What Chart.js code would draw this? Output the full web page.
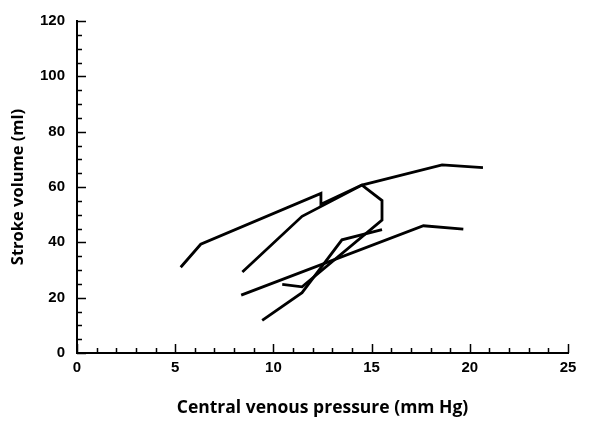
<!DOCTYPE html>
<html>
<head>
<meta charset="utf-8">
<title>Stroke volume vs CVP</title>
<script src="https://cdn.jsdelivr.net/npm/chart.js@4.4.1/dist/chart.umd.min.js"></script>
<style>
  html, body { margin: 0; padding: 0; background: #fff; }
  #wrap { width: 600px; height: 425px; position: relative; }
</style>
</head>
<body>
<div id="wrap"><canvas id="chart"></canvas></div>
<script>
// ── data (CVP mm Hg, stroke volume ml) ──
const cvp1 = [5.28, 6.30, 12.42, 12.42, 14.5, 18.59, 20.67];
const sv1  = [31.0, 39.3, 57.7, 53.8, 60.7, 68.0, 67.0];

const cvp2 = [8.42, 11.46, 14.51, 15.53, 15.53, 11.46, 10.45];
const sv2  = [29.3, 49.4, 60.7, 55.1, 48.0, 23.9, 24.8];

const cvp3 = [9.43, 11.46, 13.49, 15.53];
const sv3  = [11.8, 21.8, 40.9, 44.6];

const cvp4 = [8.36, 17.64, 19.67];
const sv4  = [20.9, 46.0, 44.8];

// axis ticks
const xLabels = [0, 5, 10, 15, 20, 25];
const yLabels = [0, 20, 40, 60, 80, 100, 120];
const xMinorTicks = Array.from({ length: 26 }, (_, i) => i);
const yMinorTicks = Array.from({ length: 25 }, (_, i) => i * 5);

const pts = (xs, ys) => xs.map((x, i) => ({ x, y: ys[i] }));

const LINE = { borderColor: '#000', borderWidth: 2.8, pointRadius: 0, borderJoinStyle: 'miter', fill: false, tension: 0 };
const TICK_FONT = { family: "'Liberation Sans', Arial, sans-serif", size: 15, weight: 'bold' };
const TITLE_FONT = { family: "'Open Sans', sans-serif", size: 17.5, weight: 'bold' };

// inward tick marks, placed through the scales
const innerTicks = {
  id: 'innerTicks',
  afterDraw(chart) {
    const { ctx, chartArea: { left, bottom }, scales: { x, y } } = chart;
    ctx.save();
    ctx.strokeStyle = '#000';
    ctx.lineWidth = 1.5;
    ctx.beginPath();
    xMinorTicks.forEach(v => {
      const px = Math.round(x.getPixelForValue(v)) + 0.5;
      const len = v % 5 === 0 ? 9 : 5;
      ctx.moveTo(px, bottom); ctx.lineTo(px, bottom - len);
    });
    yMinorTicks.forEach(v => {
      const py = Math.round(y.getPixelForValue(v)) + 0.5;
      const len = v % 20 === 0 ? 9 : 5;
      ctx.moveTo(left, py); ctx.lineTo(left + len, py);
    });
    ctx.stroke();
    ctx.restore();
  }
};

new Chart(document.getElementById('chart'), {
  type: 'line',
  data: {
    datasets: [
      { ...LINE, data: pts(cvp1, sv1) },
      { ...LINE, data: pts(cvp2, sv2) },
      { ...LINE, data: pts(cvp3, sv3) },
      { ...LINE, data: pts(cvp4, sv4) }
    ]
  },
  options: {
    responsive: true, maintainAspectRatio: false, animation: false,
    layout: { padding: { top: 16, right: 32, left: 0, bottom: 0 } },
    plugins: { legend: { display: false }, tooltip: { enabled: false } },
    scales: {
      x: {
        type: 'linear', min: 0, max: 25,
        afterBuildTicks: s => { s.ticks = xLabels.map(v => ({ value: v })); },
        afterFit: s => { s.height = 425 - 353; },
        grid: { display: false, drawTicks: false },
        border: { display: true, color: '#000', width: 2 },
        ticks: { color: '#000', font: TICK_FONT, padding: 6, maxRotation: 0, autoSkip: false },
        title: { display: true, text: 'Central venous pressure (mm Hg)', color: '#000', font: TITLE_FONT, padding: { top: 0, bottom: 6 } }
      },
      y: {
        type: 'linear', min: 0, max: 120,
        afterBuildTicks: s => { s.ticks = yLabels.map(v => ({ value: v })); },
        afterFit: s => { s.width = 77; },
        grid: { display: false, drawTicks: false },
        border: { display: true, color: '#000', width: 2 },
        ticks: { color: '#000', font: TICK_FONT, padding: 12, autoSkip: false },
        title: { display: true, text: 'Stroke volume (ml)', color: '#000', font: { ...TITLE_FONT, size: 16.5 }, padding: { top: 8, bottom: 0 } }
      }
    }
  },
  plugins: [innerTicks]
});
</script>
</body>
</html>
